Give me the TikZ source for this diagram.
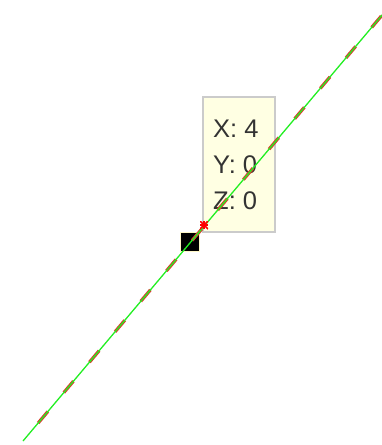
\documentclass[tikz,border=0pt]{standalone}
\usepackage{fontspec}
\setmainfont{Liberation Sans}
\definecolor{tipfill}{HTML}{FFFFE3}
\definecolor{tipedge}{HTML}{CBCBCB}
\definecolor{tiptext}{HTML}{333333}
\definecolor{lgreen}{HTML}{22EE22}
\definecolor{lred}{HTML}{D83C2C}
\definecolor{sqedge}{HTML}{FFF8C8}
\tikzset{
  tipbox/.style={draw=tipedge, line width=2pt, fill=tipfill},
  tiptxt/.style={anchor=base west, inner sep=0pt, text=tiptext, font=\fontsize{25.5}{30}\selectfont},
  redline/.style={draw=lred, line width=3.2pt, dash pattern=on 15pt off 24.8pt, dash phase=16.3pt},
  greenline/.style={draw=lgreen, line width=1.3pt},
  marker/.style={draw=sqedge, line width=1.5pt, fill=black, minimum size=19pt, inner sep=0pt},
  starmark/.style={minimum size=8pt, inner sep=0pt, path picture={
    \draw[red, line width=1.6pt] (path picture bounding box.north west) -- (path picture bounding box.south east);
    \draw[red, line width=1.6pt] (path picture bounding box.north east) -- (path picture bounding box.south west);
    \draw[red, line width=1.6pt] (path picture bounding box.north) -- (path picture bounding box.south);
    \draw[red, line width=1.6pt] (path picture bounding box.west) -- (path picture bounding box.east);}},
}
\begin{document}
\begin{tikzpicture}[x=1pt,y=-1pt]
\useasboundingbox (0,0) rectangle (381,445);
\coordinate (start) at (23,441);
\coordinate (end) at (383,14);
\draw[tipbox] (203,97) rectangle (275,232);
\node[tiptxt] (tx) at (213,137) {X: 4};
\node[tiptxt] (ty) at (213,173) {Y: 0};
\node[tiptxt] (tz) at (213,209) {Z: 0};
\node[marker] (sq) at (190,242) {};
\draw[redline] (start) -- (end);
\draw[greenline] (start) -- (end);
\node[starmark] (star) at (204,225) {};
\end{tikzpicture}
\end{document}
